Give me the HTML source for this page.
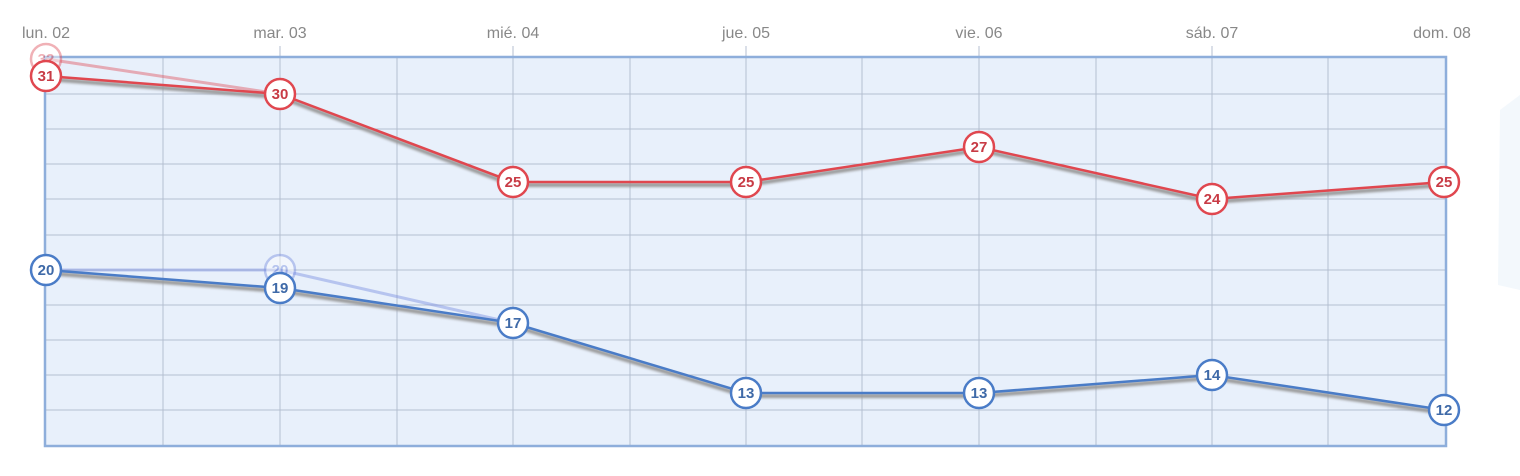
<!DOCTYPE html>
<html><head><meta charset="utf-8"><style>
body{margin:0;background:#fff;width:1520px;height:476px;overflow:hidden}
svg{display:block}
text{font-family:"Liberation Sans",sans-serif}
</style></head><body>
<svg width="1520" height="476" viewBox="0 0 1520 476">
<defs><filter id="sh" x="-5%" y="-20%" width="110%" height="140%"><feGaussianBlur stdDeviation="1.2"/></filter></defs>
<path d="M1500 110 L1520 95 L1520 290 L1498 285 Z" fill="#f3f8fc"/>
<rect x="45" y="57" width="1401" height="389" fill="#e8f0fb"/>
<g stroke="#b4bfd0" stroke-width="1">
<line x1="45" x2="1446" y1="94" y2="94"/><line x1="45" x2="1446" y1="129" y2="129"/><line x1="45" x2="1446" y1="164" y2="164"/><line x1="45" x2="1446" y1="199" y2="199"/><line x1="45" x2="1446" y1="235" y2="235"/><line x1="45" x2="1446" y1="270" y2="270"/><line x1="45" x2="1446" y1="305" y2="305"/><line x1="45" x2="1446" y1="340" y2="340"/><line x1="45" x2="1446" y1="375" y2="375"/><line x1="45" x2="1446" y1="410" y2="410"/>
<line y1="57" y2="446" x1="163" x2="163"/><line y1="46" y2="446" x1="280" x2="280"/><line y1="57" y2="446" x1="397" x2="397"/><line y1="46" y2="446" x1="513" x2="513"/><line y1="57" y2="446" x1="630" x2="630"/><line y1="46" y2="446" x1="746" x2="746"/><line y1="57" y2="446" x1="862" x2="862"/><line y1="46" y2="446" x1="979" x2="979"/><line y1="57" y2="446" x1="1096" x2="1096"/><line y1="46" y2="446" x1="1212" x2="1212"/><line y1="57" y2="446" x1="1328" x2="1328"/>
</g>
<rect x="45" y="57" width="1401" height="389" fill="none" stroke="#8eaedb" stroke-width="2.5"/>
<g font-size="16" fill="#888" text-anchor="middle">
<text x="46" y="38">lun. 02</text><text x="280" y="38">mar. 03</text><text x="513" y="38">mié. 04</text><text x="746" y="38">jue. 05</text><text x="979" y="38">vie. 06</text><text x="1212" y="38">sáb. 07</text><text x="1442" y="38">dom. 08</text>
</g>
<g fill="none" stroke-width="3" opacity="0.45">
<polyline points="46,59 280,94" stroke="#e05560"/>
<polyline points="46,270 280,270 513,323" stroke="#7a8fe0"/>
</g>
<g fill="none" stroke="#999" stroke-width="4" filter="url(#sh)" transform="translate(0,3)">
<polyline points="46,76 280,94 513,182 746,182 979,147 1212,199 1444,182"/>
<polyline points="46,270 280,288 513,323 746,393 979,393 1212,375 1444,410"/>
</g>
<polyline fill="none" stroke="#e0474f" stroke-width="2.5" points="46,76 280,94 513,182 746,182 979,147 1212,199 1444,182"/>
<polyline fill="none" stroke="#4a7cc7" stroke-width="2.5" points="46,270 280,288 513,323 746,393 979,393 1212,375 1444,410"/>
<g font-size="15" font-weight="bold" text-anchor="middle">
<g opacity="0.45"><circle cx="46" cy="59" r="15" fill="#fff" stroke="#e05560" stroke-width="2.5"/><text x="46" y="64" fill="#e05560">32</text>
<circle cx="280" cy="270" r="15" fill="#fff" stroke="#7a8fe0" stroke-width="2.5"/><text x="280" y="275" fill="#7a8fe0">20</text></g>
<g fill="#fff" stroke="#e0474f" stroke-width="2.5">
<circle cx="46" cy="76" r="15"/><circle cx="280" cy="94" r="15"/><circle cx="513" cy="182" r="15"/><circle cx="746" cy="182" r="15"/><circle cx="979" cy="147" r="15"/><circle cx="1212" cy="199" r="15"/><circle cx="1444" cy="182" r="15"/></g>
<g fill="#c83b45"><text x="46" y="81">31</text><text x="280" y="99">30</text><text x="513" y="187">25</text><text x="746" y="187">25</text><text x="979" y="152">27</text><text x="1212" y="204">24</text><text x="1444" y="187">25</text></g>
<g fill="#fff" stroke="#4a7cc7" stroke-width="2.5">
<circle cx="46" cy="270" r="15"/><circle cx="280" cy="288" r="15"/><circle cx="513" cy="323" r="15"/><circle cx="746" cy="393" r="15"/><circle cx="979" cy="393" r="15"/><circle cx="1212" cy="375" r="15"/><circle cx="1444" cy="410" r="15"/></g>
<g fill="#3f6aa8"><text x="46" y="275">20</text><text x="280" y="293">19</text><text x="513" y="328">17</text><text x="746" y="398">13</text><text x="979" y="398">13</text><text x="1212" y="380">14</text><text x="1444" y="415">12</text></g>
</g>
</svg>
</body></html>
